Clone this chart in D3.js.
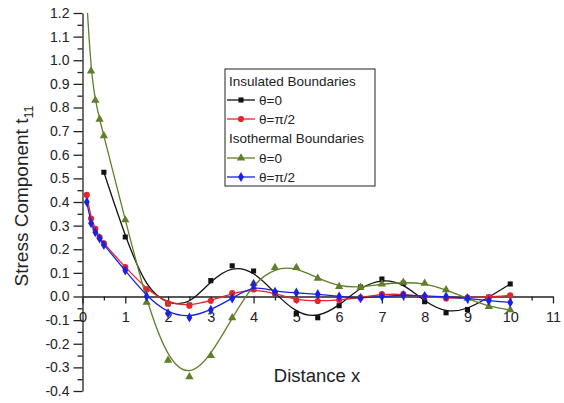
<!DOCTYPE html>
<html>
<head>
<meta charset="utf-8">
<script src="https://cdn.jsdelivr.net/npm/d3@7"></script>
<style>
  body { margin: 0; background: #fff; }
  text { font-family: "Liberation Sans", Arial, sans-serif; fill: #222; }
</style>
</head>
<body>
<div class="chart"></div>
<script>
// data
var xShort = [0.5, 1, 1.5, 2, 2.5, 3, 3.5, 4, 4.5, 5, 5.5, 6, 6.5, 7, 7.5, 8, 8.5, 9, 9.5, 10];
var xLong = [0.1, 0.2, 0.3, 0.4, 0.5, 1, 1.5, 2, 2.5, 3, 3.5, 4, 4.5, 5, 5.5, 6, 6.5, 7, 7.5, 8, 8.5, 9, 9.5, 10];

var insulatedTheta0 = [0.526, 0.252, 0.03, -0.032, -0.036, 0.067, 0.13, 0.108, 0.014, -0.071, -0.09, -0.039, 0.04, 0.074, 0.056, -0.022, -0.069, -0.055, -0.003, 0.053];
var insulatedThetaPi2 = [0.43, 0.33, 0.286, 0.25, 0.225, 0.124, 0.03, -0.029, -0.039, -0.018, 0.014, 0.03, 0.014, -0.015, -0.019, -0.015, -0.005, 0.01, 0.01, 0.0, -0.008, -0.005, -0.003, 0.005];
var isothermalTheta0 = [1.25, 0.954, 0.83, 0.75, 0.68, 0.324, -0.025, -0.27, -0.34, -0.25, -0.09, 0.056, 0.122, 0.122, 0.077, 0.042, 0.039, 0.053, 0.06, 0.056, 0.028, -0.008, -0.043, -0.057];
var isothermalThetaPi2 = [0.40, 0.31, 0.272, 0.246, 0.218, 0.11, 0.0, -0.071, -0.089, -0.057, -0.008, 0.049, 0.02, 0.016, 0.01, 0.0, -0.007, 0.0, 0.006, 0.002, 0.0, -0.008, -0.018, -0.025];

var xTicks = [0, 1, 2, 3, 4, 5, 6, 7, 8, 9, 10, 11];
var yTicks = [-0.4, -0.3, -0.2, -0.1, 0.0, 0.1, 0.2, 0.3, 0.4, 0.5, 0.6, 0.7, 0.8, 0.9, 1.0, 1.1, 1.2];

var svgWidth = 564;
var svgHeight = 403;

var svg = d3.select(".chart")
  .append("svg")
  .attr("width", svgWidth)
  .attr("height", svgHeight);

var plot = { left: 82.5, right: 553, top: 13, bottom: 391 };

var xScale = d3.scaleLinear().domain([0, 11]).range([plot.left, plot.right]);
var yScale = d3.scaleLinear().domain([-0.4, 1.2]).range([plot.bottom, plot.top]);

svg.append("clipPath").attr("id", "clip")
  .append("rect")
  .attr("x", plot.left).attr("y", plot.top)
  .attr("width", plot.right - plot.left)
  .attr("height", plot.bottom - plot.top);

// y axis, major + minor ticks
var yMinor = d3.range(-0.35, 1.2, 0.1);
svg.append("g")
  .attr("transform", `translate(${plot.left},0)`)
  .call(d3.axisLeft(yScale).tickValues(yMinor).tickSize(5).tickFormat(""))
  .call(g => g.select(".domain").remove())
  .selectAll("line").attr("stroke", "#222").attr("stroke-width", 1.3);

var yAxis = svg.append("g")
  .attr("transform", `translate(${plot.left},0)`)
  .call(d3.axisLeft(yScale).tickValues(yTicks).tickSize(9).tickPadding(4).tickFormat(d3.format(".1f")).tickSizeOuter(0));
yAxis.select(".domain").attr("stroke", "#222").attr("stroke-width", 1.3);
yAxis.selectAll("line").attr("stroke", "#222").attr("stroke-width", 1.3);
yAxis.selectAll("text")
  .style("font-size", "14px")
  .text(d => d < 0 ? "-" + Math.abs(d).toFixed(1) : d.toFixed(1));

// x axis at y = 0
var xMinor = d3.range(0.5, 11, 1);
svg.append("g")
  .attr("transform", `translate(0,${yScale(0)})`)
  .call(d3.axisBottom(xScale).tickValues(xMinor).tickSize(4).tickFormat(""))
  .call(g => g.select(".domain").remove())
  .selectAll("line").attr("stroke", "#222").attr("stroke-width", 1.3);

var xAxis = svg.append("g")
  .attr("transform", `translate(0,${yScale(0)})`)
  .call(d3.axisBottom(xScale).tickValues(xTicks).tickSize(7).tickPadding(8).tickSizeOuter(0));
xAxis.select(".domain").attr("stroke", "#222").attr("stroke-width", 1.3);
xAxis.selectAll("line").attr("stroke", "#222").attr("stroke-width", 1.3);
xAxis.selectAll("text").style("font-size", "14.5px");

// axis titles
svg.append("text")
  .attr("x", 317).attr("y", 382)
  .attr("text-anchor", "middle")
  .style("font-size", "18.5px")
  .text("Distance x");

var yTitle = svg.append("text")
  .attr("transform", "translate(28,196) rotate(-90)")
  .attr("text-anchor", "middle")
  .style("font-size", "19px");
yTitle.append("tspan").text("Stress Component t");
yTitle.append("tspan").attr("dy", 5).style("font-size", "12.5px").text("11");

// series
var series = [
  { name: "θ=0", xs: xShort, ys: insulatedTheta0, color: "#111111", shape: d3.symbolSquare, size: 26 },
  { name: "θ=π/2", xs: xLong, ys: insulatedThetaPi2, color: "#e3262b", shape: d3.symbolCircle, size: 30 },
  { name: "θ=0", xs: xLong, ys: isothermalTheta0, color: "#5f7f28", shape: d3.symbolTriangle, size: 30 },
  { name: "θ=π/2", xs: xLong, ys: isothermalThetaPi2, color: "#1a22e0", shape: d3.symbolDiamond, size: 30 }
];

var line = d3.line()
  .x(d => xScale(d[0]))
  .y(d => yScale(d[1]))
  .curve(d3.curveBasis);

var plotGroup = svg.append("g").attr("clip-path", "url(#clip)");

series.forEach(function(s) {
  var pts = s.xs.map((x, i) => [x, s.ys[i]]);
  plotGroup.append("path")
    .datum(pts)
    .attr("d", line)
    .attr("fill", "none")
    .attr("stroke", s.color)
    .attr("stroke-width", 1.3);
  plotGroup.selectAll(null)
    .data(pts)
    .enter()
    .append("path")
    .attr("transform", d => `translate(${xScale(d[0])},${yScale(d[1])})`)
    .attr("d", d3.symbol().type(s.shape).size(s.size))
    .attr("fill", s.color);
});

// legend
var legend = svg.append("g");
legend.append("rect")
  .attr("x", 225).attr("y", 69)
  .attr("width", 150).attr("height", 117)
  .attr("fill", "#fff")
  .attr("stroke", "#222")
  .attr("stroke-width", 1);

var legendRows = [
  { label: "Insulated Boundaries", y: 81 },
  { label: series[0].name, s: series[0], y: 100 },
  { label: series[1].name, s: series[1], y: 119 },
  { label: "Isothermal Boundaries", y: 138 },
  { label: series[2].name, s: series[2], y: 158 },
  { label: series[3].name, s: series[3], y: 177 }
];

legendRows.forEach(function(r) {
  if (r.s) {
    legend.append("line")
      .attr("x1", 227).attr("x2", 255)
      .attr("y1", r.y).attr("y2", r.y)
      .attr("stroke", r.s.color).attr("stroke-width", 1.3);
    legend.append("path")
      .attr("transform", `translate(241,${r.y})`)
      .attr("d", d3.symbol().type(r.s.shape).size(r.s.size))
      .attr("fill", r.s.color);
    legend.append("text")
      .attr("x", 259).attr("y", r.y + 4.5)
      .style("font-size", "13.5px")
      .text(r.label);
  } else {
    legend.append("text")
      .attr("x", 229).attr("y", r.y + 4.5)
      .style("font-size", "13.5px")
      .text(r.label);
  }
});
</script>
</body>
</html>
